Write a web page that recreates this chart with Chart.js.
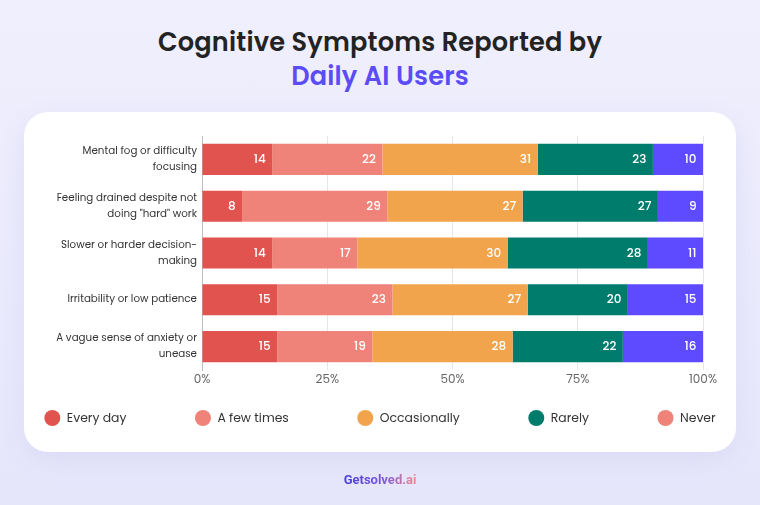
<!DOCTYPE html>
<html><head><meta charset="utf-8">
<script src="https://cdn.jsdelivr.net/npm/chart.js@4.4.1/dist/chart.umd.min.js"></script>
<style>
html,body{margin:0;padding:0;width:760px;height:505px;overflow:hidden;}
body{background:linear-gradient(180deg,#EFEFFD 0%,#E9E9FC 70%,#E6E6FB 100%);font-family:Poppins,Inter,"Noto Sans",sans-serif;position:relative;}
.t{position:absolute;left:0;width:760px;text-align:center;font-size:25.6px;font-weight:600;line-height:34px;letter-spacing:0.2px;}
.t1{top:25px;color:#232323;}
.t2{top:59px;color:#5B4CF6;}
.card{position:absolute;left:24px;top:112px;width:712px;height:340px;background:#fff;border-radius:24px;box-shadow:0 8px 26px rgba(110,110,200,0.10);}
.wrap{position:absolute;left:24px;top:112px;width:712px;height:340px;}
.footer{position:absolute;top:471px;left:0;width:760px;text-align:center;font-family:Roboto,sans-serif;font-weight:700;font-size:13px;line-height:18px;}
.footer span{background:linear-gradient(90deg,#4A3FD6 0%,#7A56DA 55%,#F08888 100%);-webkit-background-clip:text;background-clip:text;color:transparent;}
</style>
</head><body>
<div class="t t1">Cognitive Symptoms Reported by</div>
<div class="t t2">Daily AI Users</div>
<div class="card"></div>
<div class="wrap"><canvas id="c" width="712" height="340"></canvas></div>
<div class="footer"><span>Getsolved.ai</span></div>
<script>
const categories = [
  ["Mental fog or difficulty", "focusing"],
  ["Feeling drained despite not", "doing \"hard\" work"],
  ["Slower or harder decision-", "making"],
  ["Irritability or low patience"],
  ["A vague sense of anxiety or", "unease"]
];
const seriesNames = ["Every day", "A few times", "Occasionally", "Rarely", "Never"];
const everyDay     = [14, 8, 14, 15, 15];
const fewTimes     = [22, 29, 17, 23, 19];
const occasionally = [31, 27, 30, 27, 28];
const rarely       = [23, 27, 28, 20, 22];
const never        = [10, 9, 11, 15, 16];
const tickLabels = ["0%", "25%", "50%", "75%", "100%"];

const barColors = ["#E0534F", "#EF8279", "#F1A44C", "#007C6C", "#5F4BFF"];
const legendColors = ["#E0534F", "#EF8279", "#F1A44C", "#007C6C", "#EF8279"];
const FONT = "Poppins, Inter, 'Noto Sans', sans-serif";

const valueLabels = {
  id: 'valueLabels',
  afterDatasetsDraw(chart) {
    const ctx = chart.ctx;
    ctx.save();
    ctx.font = "500 12px " + FONT;
    ctx.fillStyle = "#ffffff";
    ctx.textAlign = "right";
    ctx.textBaseline = "middle";
    chart.data.datasets.forEach((ds, i) => {
      chart.getDatasetMeta(i).data.forEach((bar, j) => {
        ctx.fillText(String(ds.data[j]), bar.x - 6.5, bar.y + 0.5);
      });
    });
    ctx.restore();
  }
};

const customLegend = {
  id: 'customLegend',
  afterDraw(chart) {
    const ctx = chart.ctx;
    ctx.save();
    ctx.font = "400 12.4px " + FONT;
    ctx.textBaseline = "middle";
    ctx.textAlign = "left";
    const r = 8, toText = 14.5, gap = 68.5;
    const labels = chart.data.datasets.map(d => d.label);
    const widths = labels.map(l => ctx.measureText(l).width);
    let total = widths.reduce((a, w) => a + r + toText + w, 0) + gap * (labels.length - 1);
    let x = 356 - total / 2;
    const y = 306;
    labels.forEach((l, i) => {
      ctx.beginPath();
      ctx.fillStyle = legendColors[i];
      ctx.arc(x + r, y, r, 0, Math.PI * 2);
      ctx.fill();
      ctx.fillStyle = "#333333";
      ctx.fillText(l, x + r + toText, y + 0.5);
      x += r + toText + widths[i] + gap;
    });
    ctx.restore();
  }
};

const seriesData = [everyDay, fewTimes, occasionally, rarely, never];

new Chart(document.getElementById('c'), {
  type: 'bar',
  data: {
    labels: categories,
    datasets: seriesNames.map((n, i) => ({
      label: n,
      data: seriesData[i],
      backgroundColor: barColors[i],
      borderWidth: 0,
      categoryPercentage: 1,
      barPercentage: 0.665
    }))
  },
  options: {
    indexAxis: 'y',
    responsive: false,
    animation: false,
    devicePixelRatio: 1,
    layout: { padding: { top: 24, right: 33, left: 0, bottom: 62 } },
    plugins: { legend: { display: false }, tooltip: { enabled: false }, title: { display: false } },
    scales: {
      x: {
        stacked: true, min: 0, max: 100,
        afterFit(s) { s.height = 20; },
        grid: { color: "#E6E6E6", drawTicks: false, lineWidth: 1 },
        border: { display: false },
        ticks: {
          stepSize: 25, padding: 3, color: "#666666",
          font: { family: FONT, size: 12 },
          callback: (v, i) => tickLabels[i]
        }
      },
      y: {
        stacked: true,
        afterFit(s) { s.width = 178; },
        grid: { display: false, drawTicks: false },
        border: { display: true, color: "#BDBDBD", width: 1 },
        ticks: { padding: 5, color: "#333333", font: { family: FONT, size: 10.3, lineHeight: 1.55 } }
      }
    }
  },
  plugins: [valueLabels, customLegend]
});
</script>
</body></html>
